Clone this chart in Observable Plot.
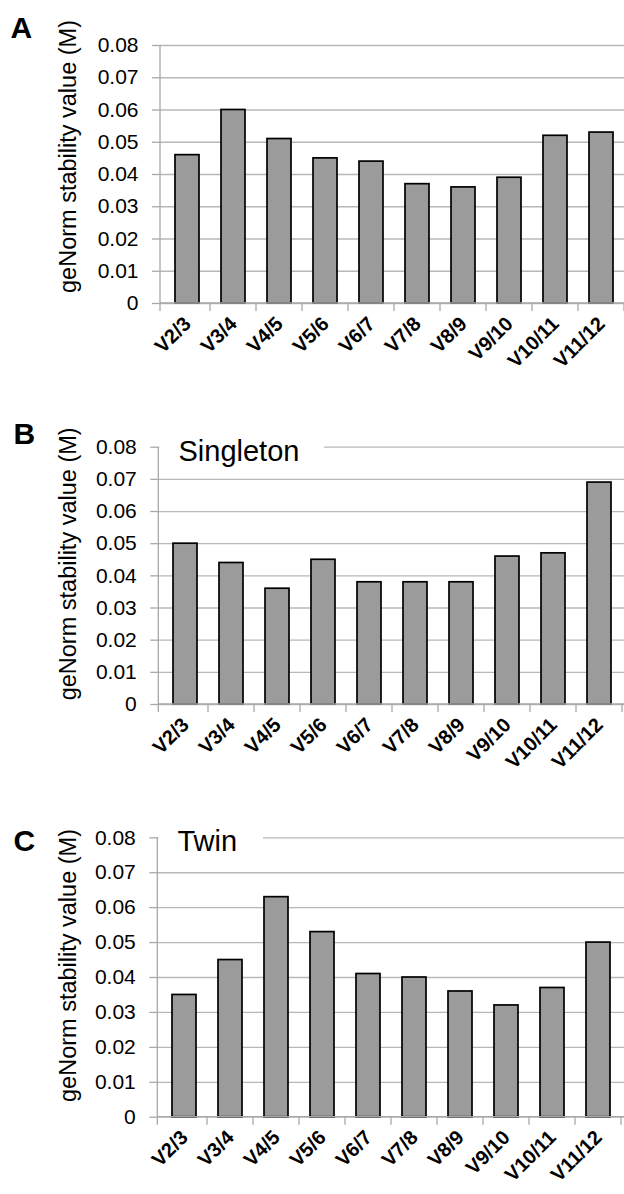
<!DOCTYPE html>
<html>
<head>
<meta charset="utf-8">
<script src="https://cdn.jsdelivr.net/npm/d3@7"></script>
<script src="https://cdn.jsdelivr.net/npm/@observablehq/plot@0.6"></script>
<style>
  html, body { margin: 0; padding: 0; background: white; overflow: hidden; }
  #wrap { width: 624px; }
  #wrap svg { display: block; overflow: visible; max-width: none; }
</style>
</head>
<body>
<div id="wrap"></div>
<script>
// ---- data ----
const categories = ["V2/3", "V3/4", "V4/5", "V5/6", "V6/7", "V7/8", "V8/9", "V9/10", "V10/11", "V11/12"];
const valuesAll = [0.046, 0.060, 0.051, 0.045, 0.044, 0.037, 0.036, 0.039, 0.052, 0.053];
const valuesSingleton = [0.050, 0.044, 0.036, 0.045, 0.038, 0.038, 0.038, 0.046, 0.047, 0.069];
const valuesTwin = [0.035, 0.045, 0.063, 0.053, 0.041, 0.040, 0.036, 0.032, 0.037, 0.050];
const yTicks = [0, 0.01, 0.02, 0.03, 0.04, 0.05, 0.06, 0.07, 0.08];
const yTickLabels = ["0", "0.01", "0.02", "0.03", "0.04", "0.05", "0.06", "0.07", "0.08"];
const yLabel = "geNorm stability value (M)";
const panelLetters = ["A", "B", "C"];
const panelTitles = [null, "Singleton", "Twin"];

// ---- style ----
const FONT = "'Liberation Sans', Arial, sans-serif";
const GRID = "#b8b8b8";
const AXIS = "#a8a8a8";
const BAR = "#9b9b9b";

// custom axis lines: y axis line + category boundary ticks
function axisLines(index, scales, values, dim) {
  const x = scales.x, y = scales.y;
  const c0 = x(categories[0]), c1 = x(categories[1]);
  const step = c1 - c0;
  const bw = x.bandwidth ? x.bandwidth() : step * 0.525;
  const off = (step - bw) / 2;
  const g = d3.create("svg:g").attr("stroke", AXIS).attr("stroke-width", 1.3);
  const left = dim.marginLeft;
  const y0 = y(0), yTop = y(0.08);
  g.append("line").attr("x1", left).attr("x2", left).attr("y1", yTop).attr("y2", y0 + 8);
  g.append("line").attr("x1", left).attr("x2", dim.width - dim.marginRight).attr("y1", y0).attr("y2", y0);
  categories.forEach((c) => {
    const bx = x(c) - off + step;
    g.append("line").attr("x1", bx).attr("x2", bx).attr("y1", y0).attr("y2", y0 + 8);
  });
  return g.node();
}

function titleBox(boxRight) {
  return (index, scales, values, dim) => {
    const y = scales.y;
    const yTop = y(0.08);
    return d3.create("svg:rect")
      .attr("x", dim.marginLeft + 1)
      .attr("y", yTop - 12)
      .attr("width", boxRight - dim.marginLeft - 1)
      .attr("height", 26)
      .attr("fill", "white")
      .node();
  };
}

function panel(p) {
  const data = categories.map((c, i) => ({cat: c, v: p.values[i]}));
  const marks = [
    Plot.gridY(yTicks, {stroke: GRID, strokeOpacity: 1, strokeWidth: 1.3}),
  ];
  if (p.title) marks.push(titleBox(p.boxRight));
  marks.push(
    Plot.barY(data, {x: "cat", y: "v", fill: BAR, stroke: "black", strokeWidth: 1.7}),
    axisLines,
    Plot.axisY(yTicks, {
      tickSize: 8, tickPadding: 14, stroke: AXIS, strokeWidth: 1.3, fontSize: 21,
      tickFormat: (d, i) => yTickLabels[i], label: null, fill: "black"
    }),
    Plot.axisX({
      tickSize: 0, tickPadding: p.xPad, tickRotate: -45, fontSize: 20, fontWeight: "bold",
      label: null, fill: "black"
    }),
    Plot.text([yLabel], {
      frameAnchor: "left", rotate: -90, dx: p.labelDx, dy: p.labelDy,
      fontSize: 23.5, fill: "black", textAnchor: "middle"
    }),
    Plot.text([p.letter], {
      frameAnchor: "top-left", textAnchor: "start", lineAnchor: "bottom",
      dx: p.letterX - p.marginLeft, dy: p.letterY - p.marginTop,
      fontSize: 30, fontWeight: "bold", fill: "black"
    })
  );
  if (p.title) {
    marks.push(Plot.text([p.title], {
      frameAnchor: "top-left", textAnchor: "start", lineAnchor: "bottom",
      dx: p.titleX - p.marginLeft, dy: p.titleY - p.marginTop,
      fontSize: 29, fill: "black"
    }));
  }
  return Plot.plot({
    width: 624,
    height: p.height,
    marginTop: p.marginTop,
    marginBottom: p.marginBottom,
    marginLeft: p.marginLeft,
    marginRight: p.marginRight,
    style: {fontFamily: FONT, background: "white", color: "black", overflow: "visible"},
    x: {domain: categories, paddingInner: 0.475, paddingOuter: 0.2375, axis: null},
    y: {domain: [0, 0.08], axis: null},
    marks
  });
}

const wrap = document.getElementById("wrap");
wrap.appendChild(panel({
  values: valuesAll, letter: panelLetters[0], title: panelTitles[0],
  height: 395, marginTop: 45, marginBottom: 92, marginLeft: 160, marginRight: -4,
  letterX: 10, letterY: 37, labelDx: -92, labelDy: -18, xPad: 17
}));
wrap.appendChild(panel({
  values: valuesSingleton, letter: panelLetters[1], title: panelTitles[1],
  height: 400, marginTop: 51.7, marginBottom: 91, marginLeft: 158.3, marginRight: -1,
  letterX: 13, letterY: 48, labelDx: -90, labelDy: -12, xPad: 17,
  titleX: 178, titleY: 65, boxRight: 324
}));
wrap.appendChild(panel({
  values: valuesTwin, letter: panelLetters[2], title: panelTitles[2],
  height: 399, marginTop: 42.3, marginBottom: 77.3, marginLeft: 157.3, marginRight: 0,
  letterX: 13, letterY: 55, labelDx: -89, labelDy: -12, xPad: 17,
  titleX: 177, titleY: 55, boxRight: 263
}));
</script>
</body>
</html>
